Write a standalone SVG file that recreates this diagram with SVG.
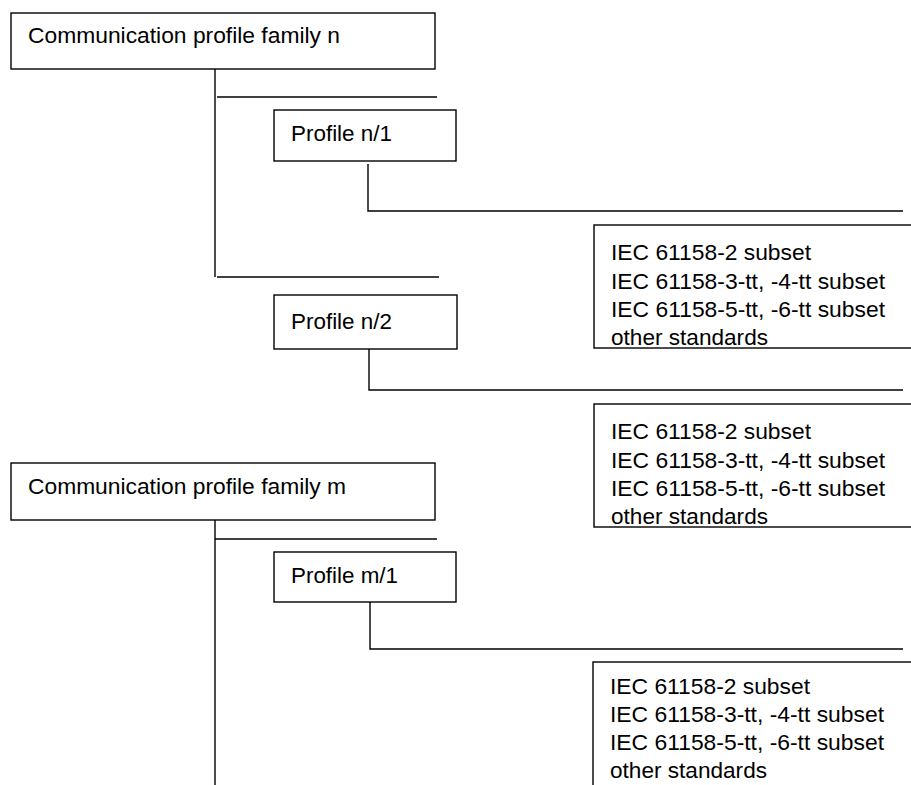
<svg xmlns="http://www.w3.org/2000/svg" width="911" height="785" viewBox="0 0 911 785">
<style>
.box{fill:#fff;stroke:#000;stroke-width:1.4}
.ln{fill:none;stroke:#000;stroke-width:1.4}
.t{font-family:"Liberation Sans",Arial,sans-serif;font-size:22.5px;fill:#000}
.s{font-family:"Liberation Sans",Arial,sans-serif;font-size:21.5px;fill:#000}
</style>
<rect width="911" height="785" fill="#fff"/>
<g id="connectors">
<path class="ln" d="M215 69V277"/>
<path class="ln" d="M217 97H437"/>
<path class="ln" d="M217 277H439"/>
<path class="ln" d="M368 164V211H903"/>
<path class="ln" d="M369 349V390H903"/>
<path class="ln" d="M215 512V785"/>
<path class="ln" d="M215 539H437"/>
<path class="ln" d="M370 602V649H903"/>
</g>
<g id="family-n">
<rect class="box" x="11" y="13" width="424" height="56"/>
<text class="t" x="28" y="43" textLength="312" lengthAdjust="spacingAndGlyphs">Communication profile family n</text>
</g>
<g id="profile-n1">
<rect class="box" x="274" y="110" width="182" height="51"/>
<text class="t" x="291" y="141" textLength="101" lengthAdjust="spacingAndGlyphs">Profile n/1</text>
</g>
<g id="std-n1">
<rect class="box" x="594" y="225" width="330" height="123"/>
<text class="s" x="611" y="260" textLength="200" lengthAdjust="spacingAndGlyphs">IEC 61158-2 subset</text>
<text class="s" x="611" y="289" textLength="274" lengthAdjust="spacingAndGlyphs">IEC 61158-3-tt, -4-tt subset</text>
<text class="s" x="611" y="317" textLength="274" lengthAdjust="spacingAndGlyphs">IEC 61158-5-tt, -6-tt subset</text>
<text class="s" x="611" y="345" textLength="157" lengthAdjust="spacingAndGlyphs">other standards</text>
</g>
<g id="profile-n2">
<rect class="box" x="274" y="295" width="183" height="54"/>
<text class="t" x="291" y="329" textLength="101" lengthAdjust="spacingAndGlyphs">Profile n/2</text>
</g>
<g id="std-n2">
<rect class="box" x="594" y="404" width="330" height="123"/>
<text class="s" x="611" y="439" textLength="200" lengthAdjust="spacingAndGlyphs">IEC 61158-2 subset</text>
<text class="s" x="611" y="468" textLength="274" lengthAdjust="spacingAndGlyphs">IEC 61158-3-tt, -4-tt subset</text>
<text class="s" x="611" y="496" textLength="274" lengthAdjust="spacingAndGlyphs">IEC 61158-5-tt, -6-tt subset</text>
<text class="s" x="611" y="524" textLength="157" lengthAdjust="spacingAndGlyphs">other standards</text>
</g>
<g id="family-m">
<rect class="box" x="11" y="463" width="424" height="57"/>
<text class="t" x="28" y="494" textLength="318" lengthAdjust="spacingAndGlyphs">Communication profile family m</text>
</g>
<g id="profile-m1">
<rect class="box" x="274" y="552" width="182" height="50"/>
<text class="t" x="291" y="583" textLength="107" lengthAdjust="spacingAndGlyphs">Profile m/1</text>
</g>
<g id="std-m1">
<rect class="box" x="593" y="662" width="330" height="140"/>
<text class="s" x="610" y="694" textLength="200" lengthAdjust="spacingAndGlyphs">IEC 61158-2 subset</text>
<text class="s" x="610" y="722" textLength="274" lengthAdjust="spacingAndGlyphs">IEC 61158-3-tt, -4-tt subset</text>
<text class="s" x="610" y="750" textLength="274" lengthAdjust="spacingAndGlyphs">IEC 61158-5-tt, -6-tt subset</text>
<text class="s" x="610" y="778" textLength="157" lengthAdjust="spacingAndGlyphs">other standards</text>
</g>
</svg>
